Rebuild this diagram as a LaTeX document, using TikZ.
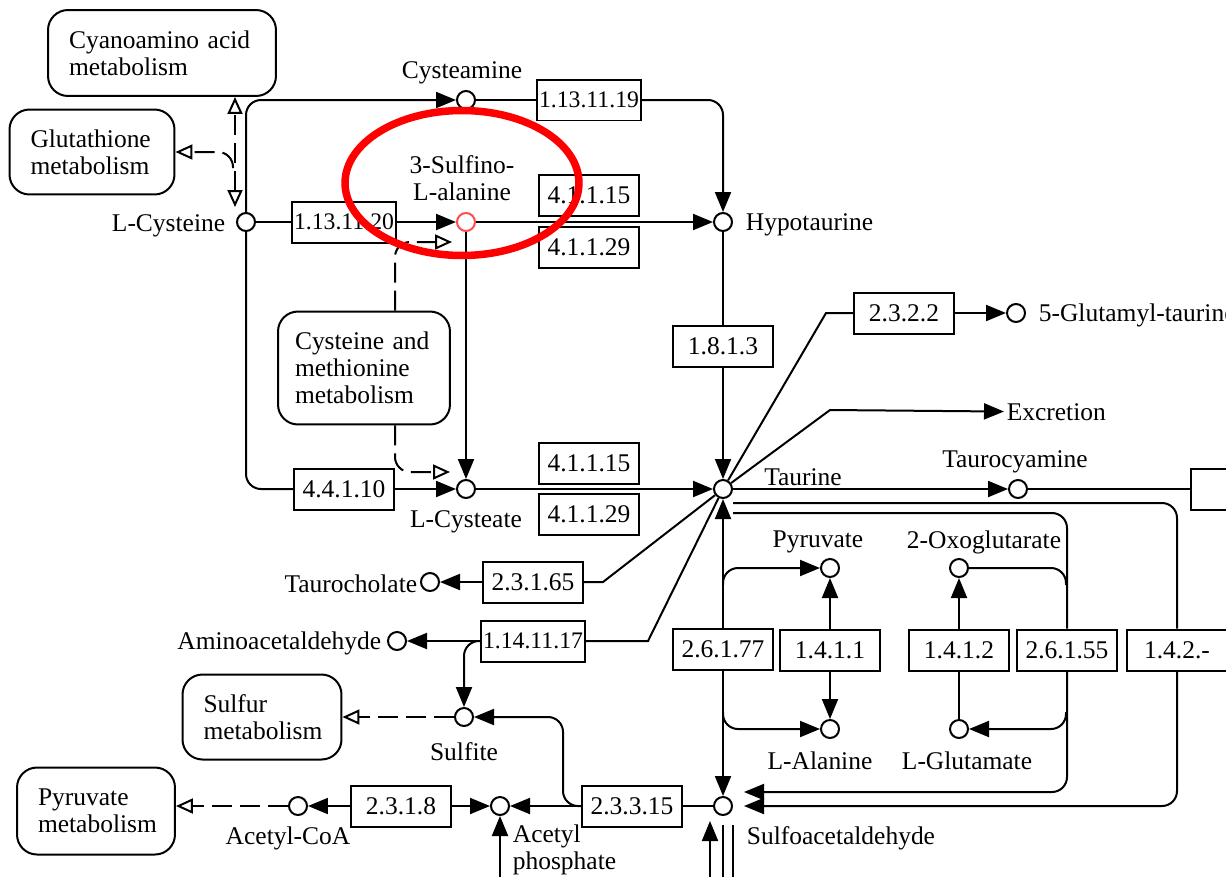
\documentclass[tikz,border=0pt]{standalone}
\usepackage{fontspec}
\setmainfont{Liberation Serif}
\usetikzlibrary{arrows.meta}

\begin{document}
\begin{tikzpicture}[x=0.02cm, y=-0.02cm, line width=0.04cm,
  every node/.style={font=\fontsize{14.5}{15.5}\selectfont},
  cpd/.style={draw, circle, minimum size=0.36cm, inner sep=0pt},
  enz/.style={draw, rectangle, minimum width=2cm, minimum height=0.82cm, inner sep=1pt},
  enzs/.style={enz, font=\fontsize{13.5}{14}\selectfont},
  mapbox/.style={draw, rounded corners=0.4cm, align=left, inner xsep=0.42cm, inner ysep=2pt},
  rxn/.style={-{Triangle[length=0.4cm, width=0.32cm]}},
  link/.style={dash pattern=on 0.4cm off 0.16cm, -{Triangle[open, length=0.34cm, width=0.3cm]}},
  linkb/.style={dash pattern=on 0.4cm off 0.16cm, {Triangle[open, length=0.34cm, width=0.3cm]}-{Triangle[open, length=0.34cm, width=0.3cm]}}]
  \useasboundingbox (0,0) rectangle (1226,876);
  \clip (0,0) rectangle (1226,876);
  \node[cpd] (cys) at (246,222) {};
  \node[cpd] (cysam) at (466,100) {};
  \node[cpd, draw=red!70] (sulfala) at (466,222) {};
  \node[cpd] (hypotau) at (723,222) {};
  \node[cpd] (cysteate) at (466,489) {};
  \node[cpd] (taurine) at (723,489) {};
  \node[cpd] (glutau) at (1016,313) {};
  \node[cpd] (taurocy) at (1018,489) {};
  \node[cpd] (tchol) at (430,582) {};
  \node[cpd] (aminoac) at (397,641) {};
  \node[cpd] (sulfite) at (464,717) {};
  \node[cpd] (acoa) at (298,806) {};
  \node[cpd] (acp) at (500,806) {};
  \node[cpd] (sulfo) at (723,806) {};
  \node[cpd] (pyr) at (830,568) {};
  \node[cpd] (oxo) at (959,568) {};
  \node[cpd] (ala) at (830,729) {};
  \node[cpd] (glu) at (959,729) {};
  \node[anchor=east] (tcys) at (232,226) {L-Cysteine};
  \node (tcysam) at (462,73) {Cysteamine};
  \node[align=center] (tsulfala) at (462,178) {3-Sulfino-\\L-alanine};
  \node[anchor=west] (thypotau) at (739,225) {Hypotaurine};
  \node (tcysteate) at (466,522) {L-Cysteate};
  \node (ttaurine) at (803,477) {Taurine};
  \node[anchor=west] (tglutau) at (1032,315) {5-Glutamyl-taurine};
  \node[anchor=west, inner sep=1pt] (excr) at (1004,412) {Excretion};
  \node (ttaurocy) at (1015,462) {Taurocyamine};
  \node[anchor=east] (ttchol) at (424,584) {Taurocholate};
  \node[anchor=east] (taminoac) at (388,643) {Aminoacetaldehyde};
  \node (tsulfite) at (464,752) {Sulfite};
  \node (tacoa) at (288,838) {Acetyl-CoA};
  \node[anchor=north west, align=left] (tacp) at (506,818) {Acetyl\\phosphate};
  \node[anchor=west] (tsulfo) at (740,838) {Sulfoacetaldehyde};
  \node (tpyr) at (818,542) {Pyruvate};
  \node (toxo) at (984,542) {2-Oxoglutarate};
  \node (tala) at (820,761) {L-Alanine};
  \node (tglu) at (967,761) {L-Glutamate};
  \node[enzs] (e1131119) at (589,100) {1.13.11.19};
  \node[enzs] (e1131120) at (344,222) {1.13.11.20};
  \node[enz] (e41115a) at (589,195) {4.1.1.15};
  \node[enz] (e41129a) at (589,247) {4.1.1.29};
  \node[enz] (e1813) at (723,346) {1.8.1.3};
  \node[enz] (e2322) at (904,313) {2.3.2.2};
  \node[enz] (e44110) at (344,489) {4.4.1.10};
  \node[enz] (e41115b) at (589,463) {4.1.1.15};
  \node[enz] (e41129b) at (589,514) {4.1.1.29};
  \node[enz] (e23165) at (533,582) {2.3.1.65};
  \node[enzs] (e1141117) at (533,641) {1.14.11.17};
  \node[enz] (e26177) at (723,649) {2.6.1.77};
  \node[enz] (e1411) at (830,650) {1.4.1.1};
  \node[enz] (e1412) at (959,650) {1.4.1.2};
  \node[enz] (e26155) at (1067,650) {2.6.1.55};
  \node[enz, anchor=west, inner xsep=0.2cm] (e142) at (1126,650) {1.4.2.-\hspace{1.5cm}};
  \node[enz, anchor=west, inner xsep=0.2cm] (e2x) at (1190,489) {2\hspace{1.5cm}};
  \node[enz] (e2318) at (401,806) {2.3.1.8};
  \node[enz] (e23315) at (632,806) {2.3.3.15};
  \node[mapbox, text width=3.72cm, minimum height=1.72cm] (cyano) at (162,53) {Cyanoamino acid\\metabolism};
  \node[mapbox, text width=2.46cm, minimum height=1.7cm] (glut) at (92,152) {Glutathione\\metabolism};
  \node[mapbox, inner xsep=0.34cm, text width=2.76cm, minimum height=2.26cm] (cysmet) at (364,368) {Cysteine and\\methionine\\metabolism};
  \node[mapbox, text width=2.34cm, minimum height=1.7cm] (sulfmap) at (262,717) {Sulfur\\metabolism};
  \node[mapbox, text width=2.32cm, minimum height=1.74cm] (pyrmap) at (96,811) {Pyruvate\\metabolism};
  \coordinate (k1) at (826,313);
  \coordinate (k2) at (830,410);
  \coordinate (k3) at (603,582);
  \coordinate (k4) at (648,641);
  \coordinate (t1) at (733,503);
  \coordinate (t2) at (733,513);
  \coordinate (s1) at (744,806);
  \coordinate (s2) at (744,792);
  \coordinate (r1) at (1177,0);
  \coordinate (j1) at (723,585);
  \coordinate (j2) at (723,712);
  \coordinate (j3) at (1066,585);
  \coordinate (j4) at (1066,712);
  \coordinate (j5) at (563,717);
  \coordinate (b1) at (500,880);
  \coordinate (b2) at (710,880);
  \coordinate (b2t) at (710,821);
  \coordinate (b3) at (723,825);
  \coordinate (b4) at (733,825);
  \coordinate (c1) at (235,207);
  \coordinate (c2) at (233,168);
  \coordinate (m0) at (395,0);
  \coordinate (m1) at (452,242);
  \coordinate (m2) at (450,472);
  \draw[rxn, rounded corners=0.3cm] (cys) |- (cysam);
  \draw (cys) -- (e1131120);
  \draw[rxn] (e1131120) -- (sulfala);
  \draw (cysam) -- (e1131119);
  \draw[rxn, rounded corners=0.3cm] (e1131119) -| (hypotau);
  \draw[rxn] (sulfala) -- (hypotau);
  \draw[rxn] (sulfala) -- (cysteate);
  \draw[rounded corners=0.3cm] (cys) |- (e44110);
  \draw[rxn] (e44110) -- (cysteate);
  \draw (hypotau) -- (e1813);
  \draw[rxn] (e1813) -- (taurine);
  \draw[rxn] (cysteate) -- (taurine);
  \draw (taurine) -- (k1) -- (e2322);
  \draw[rxn] (e2322) -- (glutau);
  \draw[rxn] (taurine) -- (k2) -- (excr);
  \draw[rxn] (taurine) -- (taurocy);
  \draw (taurocy) -- (e2x);
  \draw[rounded corners=0.3cm] (t1) -| (e142.north -| r1);
  \draw[rxn, rounded corners=0.3cm] (e142.south -| r1) |- (s1);
  \draw[rounded corners=0.3cm] (t2) -| (e26155);
  \draw[rxn, rounded corners=0.3cm] (e26155) |- (s2);
  \draw[rxn] (e26177) -- (taurine);
  \draw[rxn] (e26177) -- (sulfo);
  \draw[rxn, rounded corners=0.3cm] (j1) |- (pyr);
  \draw[rxn, rounded corners=0.3cm] (j2) |- (ala);
  \draw[rounded corners=0.3cm] (oxo) -| (j3);
  \draw[rxn, rounded corners=0.3cm] (j4) |- (glu);
  \draw[rxn] (e1411) -- (pyr);
  \draw[rxn] (e1411) -- (ala);
  \draw (glu) -- (e1412);
  \draw[rxn] (e1412) -- (oxo);
  \draw (taurine) -- (k3) -- (e23165);
  \draw[rxn] (e23165) -- (tchol);
  \draw (taurine) -- (k4) -- (e1141117);
  \draw[rxn] (e1141117) -- (aminoac);
  \draw[rxn, rounded corners=0.3cm] (e1141117.west) -| (sulfite);
  \draw[rxn, rounded corners=0.3cm] (e23315.west) -| (j5) -- (sulfite);
  \draw (sulfo) -- (e23315);
  \draw[rxn] (e23315) -- (acp);
  \draw[rxn] (e2318) -- (acp);
  \draw[rxn] (e2318) -- (acoa);
  \draw[rxn] (b1) -- (acp);
  \draw[rxn] (b2) -- (b2t);
  \draw (b3) -- ++(0,60);
  \draw (b4) -- ++(0,60);
  \draw[link] (acoa) -- (acoa -| pyrmap.east);
  \draw[link] (sulfite) -- (sulfite -| sulfmap.east);
  \draw[linkb] (c1) -- (c1 |- cyano.south);
  \draw[link, rounded corners=0.3cm] (c2) |- (glut);
  \draw[link, rounded corners=0.3cm] (cysmet.north -| m0) |- (m1);
  \draw[link, rounded corners=0.3cm] (cysmet.south -| m0) |- (m2);
  \draw[red, line width=0.15cm] (462,183) ellipse [x radius=2.34cm, y radius=1.45cm];
\end{tikzpicture}
\end{document}
